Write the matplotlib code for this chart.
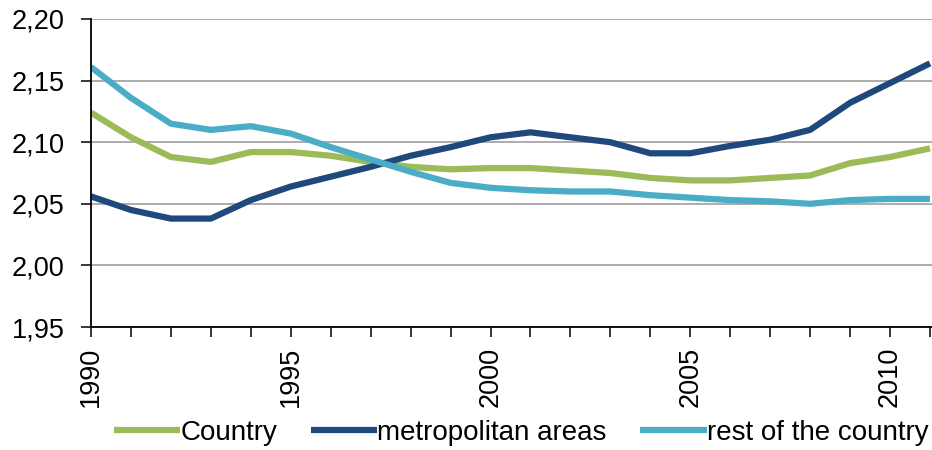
import matplotlib
matplotlib.use('Agg')
import matplotlib.pyplot as plt
from matplotlib.ticker import FuncFormatter

# data
years = list(range(1990, 2012))
country = [2.124, 2.104, 2.088, 2.084, 2.092, 2.092, 2.089, 2.084, 2.080, 2.078, 2.079,
           2.079, 2.077, 2.075, 2.071, 2.069, 2.069, 2.071, 2.073, 2.083, 2.088, 2.095]
metro = [2.056, 2.045, 2.038, 2.038, 2.053, 2.064, 2.072, 2.080, 2.089, 2.096, 2.104,
         2.108, 2.104, 2.100, 2.091, 2.091, 2.097, 2.102, 2.110, 2.132, 2.148, 2.164]
rest = [2.161, 2.136, 2.115, 2.110, 2.113, 2.107, 2.096, 2.086, 2.076, 2.067, 2.063,
        2.061, 2.060, 2.060, 2.057, 2.055, 2.053, 2.052, 2.050, 2.053, 2.054, 2.054]
labels = ['Country', 'metropolitan areas', 'rest of the country']
colors = ['#9BBB59', '#1F497D', '#4BACC6']

plt.rcParams['font.family'] = ['Liberation Sans', 'DejaVu Sans']

fig = plt.figure(figsize=(9.32, 4.5), dpi=100)
ax = fig.add_axes([0.0976, 0.2733, 0.9024, 0.6845])

for vals, lab, c in zip([country, metro, rest], labels, colors):
  ax.plot(years, vals, color=c, lw=4.5, label=lab, solid_capstyle='butt')

ax.set_xlim(1990, 2011.05)
ax.set_ylim(1.95, 2.20)
ax.set_yticks([1.95, 2.00, 2.05, 2.10, 2.15, 2.20])
ax.yaxis.set_major_formatter(FuncFormatter(lambda v, p: '{:.2f}'.format(v).replace('.', ',')))
ax.set_xticks(years)
ax.set_xticklabels([str(y) if y % 5 == 0 else '' for y in years], rotation=90)
ax.grid(axis='y', color='#A6A6A6', lw=1.3)
ax.set_axisbelow(True)
for s in ['top', 'right']:
  ax.spines[s].set_visible(False)
for s in ['left', 'bottom']:
  ax.spines[s].set_linewidth(1.3)
ax.tick_params(axis='x', length=7, width=1.1, pad=7, labelsize=19.5, direction='out')
ax.tick_params(axis='y', length=7, width=1.1, pad=12, labelsize=19.5, direction='out')

fig.legend(loc='center', bbox_to_anchor=(0.559, 0.038), ncol=3, frameon=False,
           fontsize=20, handlelength=2.4, handletextpad=0.0, columnspacing=1.2,
           borderaxespad=0)

fig.savefig('out.png', dpi=100)
